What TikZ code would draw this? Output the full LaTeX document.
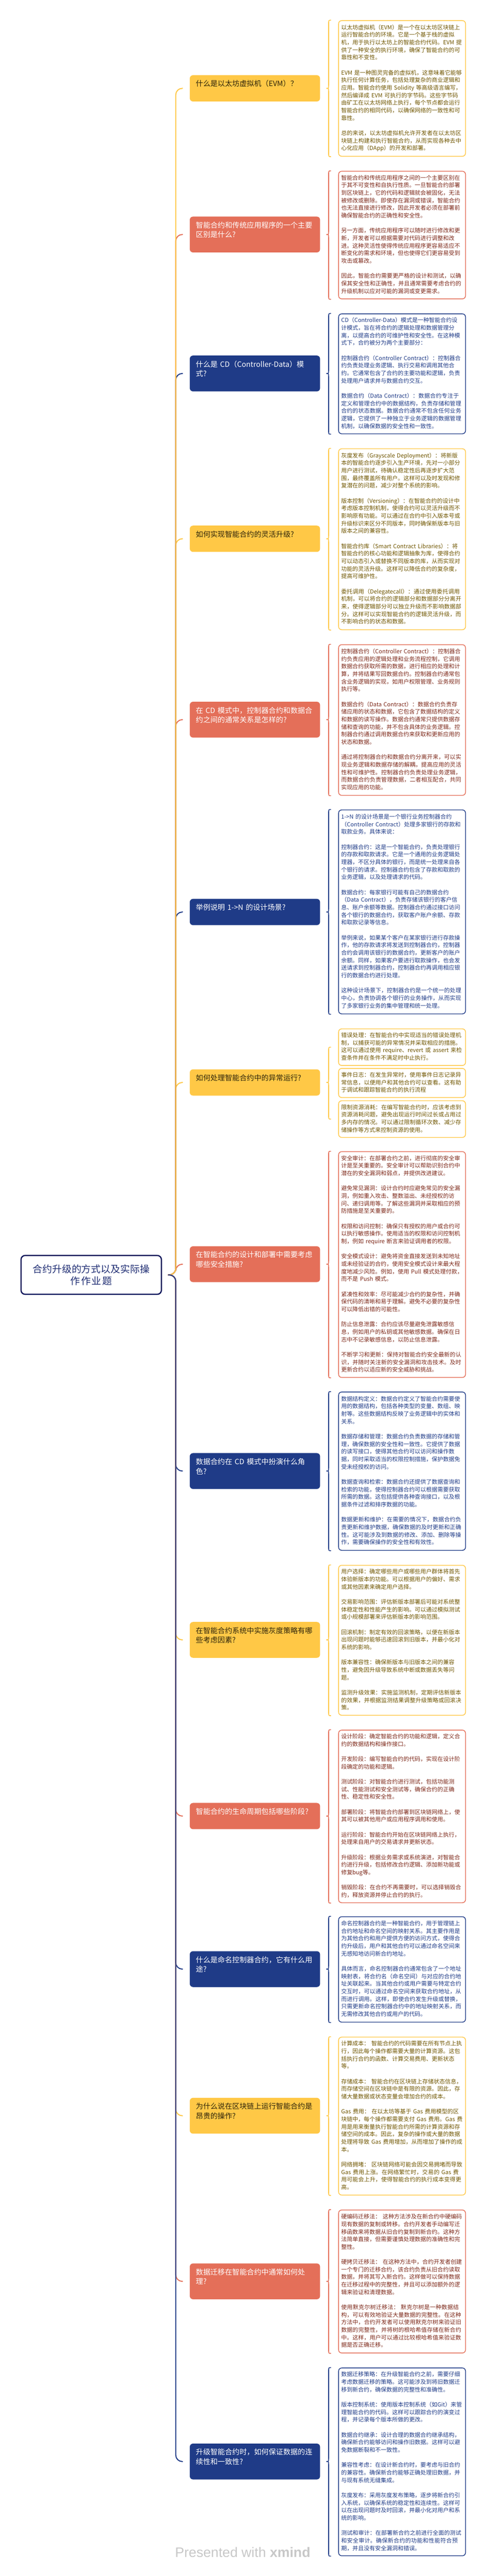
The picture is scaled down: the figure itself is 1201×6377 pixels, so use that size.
\documentclass[tikz,border=0pt]{standalone}
\usepackage{fontspec}
\newfontfamily\cjk{Noto Sans CJK SC}
\newfontfamily\wmfont{Liberation Sans}
\usetikzlibrary{calc}
\XeTeXlinebreaklocale "zh"
\XeTeXlinebreakskip=0pt plus 1pt
\definecolor{cy}{RGB}{255,200,70}
\definecolor{cr}{RGB}{228,111,89}
\definecolor{cn}{RGB}{31,59,135}
\definecolor{ty}{RGB}{112,86,0}
\definecolor{tr}{RGB}{125,40,25}
\definecolor{tn}{RGB}{31,59,135}
\definecolor{qyt}{RGB}{45,35,10}
\definecolor{rootb}{RGB}{12,20,90}
\definecolor{roott}{RGB}{31,45,115}
\definecolor{wm}{RGB}{200,200,200}
\tikzset{
  conn/.style={line width=2.5pt, rounded corners=16pt},
  brc/.style={line width=2pt},
  qbox/.style={anchor=north west, rounded corners=8pt, text width=292pt, inner xsep=15pt, inner ysep=11.4pt, align=left, font=\cjk\fontsize{18pt}{23.7pt}\selectfont},
  qy/.style={qbox, fill=cy, text=qyt},
  qr/.style={qbox, fill=cr, text=white},
  qn/.style={qbox, fill=cn, text=white},
  dbox/.style={anchor=north west, rounded corners=8pt, draw, line width=1.8pt, fill=white, text width=301pt, inner xsep=6.5pt, inner ysep=8pt, font=\cjk\fontsize{14pt}{18.7pt}\selectfont},
  dy/.style={dbox, draw=cy, text=ty},
  dr/.style={dbox, draw=cr, text=tr},
  dn/.style={dbox, draw=cn, text=tn},
}
\newcommand\qt[1]{\strut#1\rule[-25.6pt]{0pt}{25.6pt}}
\newcommand\dt[1]{\raggedright\parindent=0pt\parskip=0pt\hyphenpenalty=10000 \exhyphenpenalty=10000 \strut#1\strut}
\newcommand\pb{\par\vspace{18.7pt}}
\newcommand\qbrace[4]{%
  \draw[brc,#1] let \p1=(#2.east), \p2=(#3), \p3=(#4) in
  (\x1+27pt,\y2) .. controls (\x1+21pt,\y2) .. (\x1+21pt,\y2-8pt)
  -- (\x1+21pt,\y1+8pt) .. controls (\x1+21pt,\y1) .. (\x1+15pt,\y1)
  .. controls (\x1+21pt,\y1) .. (\x1+21pt,\y1-8pt)
  -- (\x1+21pt,\y3+8pt) .. controls (\x1+21pt,\y3) .. (\x1+27pt,\y3);}
\begin{document}
\begin{tikzpicture}[x=1pt,y=-1pt]
\fill[white] (0,0) rectangle (1201,6377);
\path[use as bounding box] (0,0) rectangle (1201,6377);

% root
\node[draw=rootb, line width=3pt, fill=white, rounded corners=10pt, minimum width=347pt, minimum height=96pt, text width=300pt, align=center, font=\cjk\fontsize{24pt}{30pt}\selectfont, text=roott] (root) at (225.5,3156) {合约升级的方式以及实际操\\作作业题};

% questions
\node[qy] (q1) at (469,186) {\qt{什么是以太坊虚拟机（EVM）？}};
\node[qr] (q2) at (469,536) {\qt{智能合约和传统应用程序的一个主要\\区别是什么?}};
\node[qn] (q3) at (469,880) {\qt{什么是 CD（Controller-Data）模\\式?}};
\node[qy] (q4) at (469,1301) {\qt{如何实现智能合约的灵活升级?}};
\node[qr] (q5) at (469,1737) {\qt{在 CD 模式中，控制器合约和数据合\\约之间的通常关系是怎样的?}};
\node[qn] (q6) at (469,2225) {\qt{举例说明 1->N 的设计场景?}};
\node[qy] (q7) at (469,2647) {\qt{如何处理智能合约中的异常运行?}};
\node[qr] (q8) at (469,3085) {\qt{在智能合约的设计和部署中需要考虑\\哪些安全措施?}};
\node[qn] (q9) at (469,3597) {\qt{数据合约在 CD 模式中扮演什么角\\色?}};
\node[qy] (q10) at (469,4015) {\qt{在智能合约系统中实施灰度策略有哪\\些考虑因素?}};
\node[qr] (q11) at (469,4463) {\qt{智能合约的生命周期包括哪些阶段?}};
\node[qn] (q12) at (469,4830) {\qt{什么是命名控制器合约，它有什么用\\途?}};
\node[qy] (q13) at (469,5193) {\qt{为什么说在区块链上运行智能合约是\\昂贵的操作?}};
\node[qr] (q14) at (469,5603) {\qt{数据迁移在智能合约中通常如何处\\理?}};
\node[qn] (q15) at (469,6049) {\qt{升级智能合约时，如何保证数据的连\\续性和一致性?}};

% details
\node[dy, minimum height=336pt] (d1) at (836,50) {\dt{以太坊虚拟机（EVM）是一个在以太坊区块链上运行智能合约的环境。它是一个基于栈的虚拟机，用于执行以太坊上的智能合约代码。EVM 提供了一种安全的执行环境，确保了智能合约的可靠性和不变性。\pb EVM 是一种图灵完备的虚拟机，这意味着它能够执行任何计算任务，包括处理复杂的商业逻辑和应用。智能合约使用 Solidity 等高级语言编写，然后编译成 EVM 可执行的字节码。这些字节码由矿工在以太坊网络上执行，每个节点都会运行智能合约的相同代码，以确保网络的一致性和可靠性。\pb 总的来说，以太坊虚拟机允许开发者在以太坊区块链上构建和执行智能合约，从而实现各种去中心化应用（DApp）的开发和部署。}};

\node[dr, minimum height=316pt] (d2) at (836,423) {\dt{智能合约和传统应用程序之间的一个主要区别在于其不可变性和自执行性质。一旦智能合约部署到区块链上，它的代码和逻辑就会被固化，无法被修改或删除。即使存在漏洞或错误，智能合约也无法直接进行修改，因此开发者必须在部署前确保智能合约的正确性和安全性。\pb 另一方面，传统应用程序可以随时进行修改和更新，开发者可以根据需要对代码进行调整和改进。这种灵活性使得传统应用程序更容易适应不断变化的需求和环境，但也使得它们更容易受到攻击或篡改。\pb 因此，智能合约需要更严格的设计和测试，以确保其安全性和正确性，并且通常需要考虑合约的升级机制以应对可能的漏洞或变更需求。}};

\node[dn, minimum height=297pt] (d3) at (836,776) {\dt{CD（Controller-Data）模式是一种智能合约设计模式，旨在将合约的逻辑处理和数据管理分离，以提高合约的可维护性和安全性。在这种模式下，合约被分为两个主要部分：\pb 控制器合约（Controller Contract）：控制器合约负责处理业务逻辑、执行交易和调用其他合约。它通常包含了合约的主要功能和逻辑，负责处理用户请求并与数据合约交互。\pb 数据合约（Data Contract）：数据合约专注于定义和管理合约中的数据结构，负责存储和管理合约的状态数据。数据合约通常不包含任何业务逻辑，它提供了一种独立于业务逻辑的数据管理机制，以确保数据的安全性和一致性。}};

\node[dy, minimum height=448pt] (d4) at (836,1110) {\dt{灰度发布（Grayscale Deployment）：将新版本的智能合约逐步引入生产环境，先对一小部分用户进行测试，待确认稳定性后再逐步扩大范围，最终覆盖所有用户。这样可以及时发现和修复潜在的问题，减少对整个系统的影响。\pb 版本控制（Versioning）：在智能合约的设计中考虑版本控制机制，使得合约可以灵活升级而不影响原有功能。可以通过在合约中引入版本号或升级标识来区分不同版本，同时确保新版本与旧版本之间的兼容性。\pb 智能合约库（Smart Contract Libraries）：将智能合约的核心功能和逻辑抽象为库，使得合约可以动态引入或替换不同版本的库，从而实现对功能的灵活升级。这样可以降低合约的复杂度，提高可维护性。\pb 委托调用（Delegatecall）：通过使用委托调用机制，可以将合约的逻辑部分和数据部分分离开来，使得逻辑部分可以独立升级而不影响数据部分。这样可以实现智能合约的逻辑灵活升级，而不影响合约的状态和数据。}};

\node[dr, minimum height=373pt] (d5) at (836,1595) {\dt{控制器合约（Controller Contract）：控制器合约负责应用的逻辑处理和业务流程控制，它调用数据合约获取所需的数据，进行相应的处理和计算，并将结果写回数据合约。控制器合约通常包含业务逻辑的实现，如用户权限管理、业务规则执行等。\pb 数据合约（Data Contract）：数据合约负责存储应用的状态和数据，它包含了数据结构的定义和数据的读写操作。数据合约通常只提供数据存储和查询的功能，并不包含具体的业务逻辑。控制器合约通过调用数据合约来获取和更新应用的状态和数据。\pb 通过将控制器合约和数据合约分离开来，可以实现业务逻辑和数据存储的解耦，提高应用的灵活性和可维护性。控制器合约负责处理业务逻辑，而数据合约负责管理数据，二者相互配合，共同实现应用的功能。}};

\node[dn, minimum height=505pt] (d6) at (836,2004) {\dt{1->N 的设计场景是一个银行业务控制器合约（Controller Contract）处理多家银行的存款和取款业务。具体来说：\pb 控制器合约：这是一个智能合约，负责处理银行的存款和取款请求。它是一个通用的业务逻辑处理器，不区分具体的银行，而是统一处理来自各个银行的请求。控制器合约包含了存款和取款的业务逻辑，以及处理请求的代码。\pb 数据合约：每家银行可能有自己的数据合约（Data Contract），负责存储该银行的客户信息、账户余额等数据。控制器合约通过接口访问各个银行的数据合约，获取客户账户余额、存款和取款记录等信息。\pb 举例来说，如果某个客户在某家银行进行存款操作，他的存款请求将发送到控制器合约，控制器合约会调用该银行的数据合约，更新客户的账户余额。同样，如果客户要进行取款操作，也会发送请求到控制器合约，控制器合约再调用相应银行的数据合约进行处理。\pb 这种设计场景下，控制器合约是一个统一的处理中心，负责协调各个银行的业务操作，从而实现了多家银行业务的集中管理和统一处理。}};

\node[dy, minimum height=89pt] (d7a) at (836,2546) {\dt{错误处理：在智能合约中实现适当的错误处理机制，以捕获可能的异常情况并采取相应的措施。这可以通过使用 require、revert 或 assert 来检查条件并在条件不满足时中止执行。}};
\node[dy, minimum height=71pt] (d7b) at (836,2644) {\dt{事件日志：在发生异常时，使用事件日志记录异常信息，以便用户和其他合约可以查看。这有助于调试和跟踪智能合约的执行流程}};
\node[dy, minimum height=89pt] (d7c) at (836,2724) {\dt{限制资源消耗：在编写智能合约时，应该考虑到资源消耗问题，避免出现运行时间过长或占用过多内存的情况。可以通过限制循环次数、减少存储操作等方式来控制资源的使用。}};

\node[dr, minimum height=559pt] (d8) at (836,2850) {\dt{安全审计：在部署合约之前，进行彻底的安全审计是至关重要的。安全审计可以帮助识别合约中潜在的安全漏洞和弱点，并提供改进建议。\pb 避免常见漏洞：设计合约时应避免常见的安全漏洞，例如重入攻击、整数溢出、未经授权的访问、递归调用等。了解这些漏洞并采取相应的预防措施是至关重要的。\pb 权限和访问控制：确保只有授权的用户或合约可以执行敏感操作。使用适当的权限和访问控制机制，例如 require 断言来验证调用者的权限。\pb 安全模式设计：避免将资金直接发送到未知地址或未经验证的合约，使用安全模式设计来最大程度地减少风险。例如，使用 Pull 模式处理付款，而不是 Push 模式。\pb 紧凑性和效率：尽可能减少合约的复杂性，并确保代码的清晰和易于理解。避免不必要的复杂性可以降低出错的可能性。\pb 防止信息泄露：合约应该尽量避免泄露敏感信息，例如用户的私钥或其他敏感数据。确保在日志中不记录敏感信息，以防止信息泄露。\pb 不断学习和更新：保持对智能合约安全最新的认识，并随时关注新的安全漏洞和攻击技术。及时更新合约以适应新的安全威胁和挑战。}};

\node[dn, minimum height=392pt] (d9) at (836,3445) {\dt{数据结构定义：数据合约定义了智能合约需要使用的数据结构，包括各种类型的变量、数组、映射等。这些数据结构反映了业务逻辑中的实体和关系。\pb 数据存储和管理：数据合约负责数据的存储和管理，确保数据的安全性和一致性。它提供了数据的读写接口，使得其他合约可以访问和操作数据，同时采取适当的权限控制措施，保护数据免受未经授权的访问。\pb 数据查询和检索：数据合约还提供了数据查询和检索的功能，使得控制器合约可以根据需要获取所需的数据。这包括提供各种查询接口，以及根据条件过滤和排序数据的功能。\pb 数据更新和维护：在需要的情况下，数据合约负责更新和维护数据，确保数据的及时更新和正确性。这可能涉及到数据的修改、添加、删除等操作，需要确保操作的安全性和有效性。}};

\node[dy, minimum height=371pt] (d10) at (836,3874) {\dt{用户选择：确定哪些用户或哪些用户群体将首先体验新版本的功能。可以根据用户的偏好、需求或其他因素来确定用户选择。\pb 交易影响范围：评估新版本部署后可能对系统整体稳定性和性能产生的影响。可以通过模拟测试或小规模部署来评估新版本的影响范围。\pb 回滚机制：制定有效的回滚策略，以便在新版本出现问题时能够迅速回滚到旧版本，并最小化对系统的影响。\pb 版本兼容性：确保新版本与旧版本之间的兼容性，避免因升级导致系统中断或数据丢失等问题。\pb 监测升级效果：实施监测机制，定期评估新版本的效果，并根据监测结果调整升级策略或回滚决策。}};

\node[dr, minimum height=426pt] (d11) at (836,4282) {\dt{设计阶段：确定智能合约的功能和逻辑，定义合约的数据结构和操作接口。\pb 开发阶段：编写智能合约的代码，实现在设计阶段确定的功能和逻辑。\pb 测试阶段：对智能合约进行测试，包括功能测试、性能测试和安全测试等，确保合约的正确性、稳定性和安全性。\pb 部署阶段：将智能合约部署到区块链网络上，使其可以被其他用户或应用程序调用和使用。\pb 运行阶段：智能合约开始在区块链网络上执行，处理来自用户的交易请求并更新状态。\pb 升级阶段：根据业务需求或系统演进，对智能合约进行升级，包括修改合约逻辑、添加新功能或修复bug等。\pb 销毁阶段：在合约不再需要时，可以选择销毁合约，释放资源并停止合约的执行。}};

\node[dn, minimum height=261pt] (d12) at (836,4744) {\dt{命名控制器合约是一种智能合约，用于管理链上合约地址和命名空间的映射关系。其主要作用是为其他合约和用户提供方便的访问方式，使得合约升级后，用户和其他合约可以通过命名空间来无感知地访问新合约地址。\pb 具体而言，命名控制器合约通常包含了一个地址映射表，将合约名（命名空间）与对应的合约地址关联起来。当其他合约或用户需要与特定合约交互时，可以通过命名空间来获取合约地址，从而进行调用。这样，即使合约发生升级或替换，只需更新命名控制器合约中的地址映射关系，而无需修改其他合约或用户的代码。}};

\node[dy, minimum height=391pt] (d13) at (836,5042) {\dt{计算成本： 智能合约的代码需要在所有节点上执行，因此每个操作都需要大量的计算资源。这包括执行合约的函数、计算交易费用、更新状态等。\pb 存储成本： 智能合约在区块链上存储状态信息，而存储空间在区块链中是有限的资源。因此，存储大量数据或状态变量会增加合约的成本。\pb Gas 费用： 在以太坊等基于 Gas 费用模型的区块链中，每个操作都需要支付 Gas 费用。Gas 费用是用来衡量执行智能合约所需的计算资源和存储空间的成本。因此，复杂的操作或大量的数据处理将导致 Gas 费用增加，从而增加了操作的成本。\pb 网络拥堵： 区块链网络可能会因交易拥堵而导致 Gas 费用上涨。在网络繁忙时，交易的 Gas 费用可能会上升，使得智能合约的执行成本变得更高。}};

\node[dr, minimum height=354pt] (d14) at (836,5470) {\dt{硬编码迁移法： 这种方法涉及在新合约中硬编码现有数据的复制或转移。合约开发者手动编写迁移函数来将数据从旧合约复制到新合约。这种方法简单直接，但需要谨慎处理数据的准确性和完整性。\pb 硬拷贝迁移法： 在这种方法中，合约开发者创建一个专门的迁移合约，该合约负责从旧合约读取数据，并将其写入新合约。这样做可以保持数据在迁移过程中的完整性，并且可以添加额外的逻辑来验证和清理数据。\pb 使用默克尔树迁移法： 默克尔树是一种数据结构，可以有效地验证大量数据的完整性。在这种方法中，合约开发者可以使用默克尔树来验证旧数据的完整性，并将树的根哈希值存储在新合约中。这样，用户可以通过比较根哈希值来验证数据是否正确迁移。}};

\node[dn, minimum height=465pt] (d15) at (836,5861) {\dt{数据迁移策略：在升级智能合约之前，需要仔细考虑数据迁移的策略。这可能涉及到将旧数据迁移到新合约，确保数据的完整性和准确性。\pb 版本控制系统：使用版本控制系统（如Git）来管理智能合约的代码。这样可以跟踪合约的演变过程，并记录每个版本所做的更改。\pb 数据合约继承：设计合理的数据合约继承结构，确保新合约能够访问和操作旧数据。这样可以避免数据断裂和不一致性。\pb 兼容性考虑：在设计新合约时，要考虑与旧合约的兼容性。确保新合约能够正确处理旧数据，并与现有系统无缝集成。\pb 灰度发布：采用灰度发布策略，逐步将新合约引入系统，以确保系统的稳定性和连续性。这样可以在出现问题时及时回滚，并最小化对用户和系统的影响。\pb 测试和审计：在部署新合约之前进行全面的测试和安全审计。确保新合约的功能和性能符合预期，并且没有安全漏洞和错误。}};

% braces
\qbrace{cy}{q1}{d1.north west}{d1.south west}
\qbrace{cr}{q2}{d2.north west}{d2.south west}
\qbrace{cn}{q3}{d3.north west}{d3.south west}
\qbrace{cy}{q4}{d4.north west}{d4.south west}
\qbrace{cr}{q5}{d5.north west}{d5.south west}
\qbrace{cn}{q6}{d6.north west}{d6.south west}
\qbrace{cy}{q7}{d7a.west}{d7c.west}
\qbrace{cr}{q8}{d8.north west}{d8.south west}
\qbrace{cn}{q9}{d9.north west}{d9.south west}
\qbrace{cy}{q10}{d10.north west}{d10.south west}
\qbrace{cr}{q11}{d11.north west}{d11.south west}
\qbrace{cn}{q12}{d12.north west}{d12.south west}
\qbrace{cy}{q13}{d13.north west}{d13.south west}
\qbrace{cr}{q14}{d14.north west}{d14.south west}
\qbrace{cn}{q15}{d15.north west}{d15.south west}

% connectors (upward, Q1 drawn last)
\draw[conn, cr] ([xshift=15pt]root.east) -- ++(19pt,0) |- ([xshift=-17pt]q8.west);
\draw[conn, cy] ([xshift=15pt]root.east) -- ++(19pt,0) |- ([xshift=-17pt]q7.west);
\draw[conn, cn] ([xshift=15pt]root.east) -- ++(19pt,0) |- ([xshift=-17pt]q6.west);
\draw[conn, cr] ([xshift=15pt]root.east) -- ++(19pt,0) |- ([xshift=-17pt]q5.west);
\draw[conn, cy] ([xshift=15pt]root.east) -- ++(19pt,0) |- ([xshift=-17pt]q4.west);
\draw[conn, cn] ([xshift=15pt]root.east) -- ++(19pt,0) |- ([xshift=-17pt]q3.west);
\draw[conn, cr] ([xshift=15pt]root.east) -- ++(19pt,0) |- ([xshift=-17pt]q2.west);
\draw[conn, cy] ([xshift=15pt]root.east) -- ++(19pt,0) |- ([xshift=-17pt]q1.west);
% downward, Q15 drawn last
\draw[conn, cn] ([xshift=15pt]root.east) -- ++(19pt,0) |- ([xshift=-17pt]q9.west);
\draw[conn, cy] ([xshift=15pt]root.east) -- ++(19pt,0) |- ([xshift=-17pt]q10.west);
\draw[conn, cr] ([xshift=15pt]root.east) -- ++(19pt,0) |- ([xshift=-17pt]q11.west);
\draw[conn, cn] ([xshift=15pt]root.east) -- ++(19pt,0) |- ([xshift=-17pt]q12.west);
\draw[conn, cy] ([xshift=15pt]root.east) -- ++(19pt,0) |- ([xshift=-17pt]q13.west);
\draw[conn, cr] ([xshift=15pt]root.east) -- ++(19pt,0) |- ([xshift=-17pt]q14.west);
\draw[conn, cn] ([xshift=15pt]root.east) -- ++(19pt,0) |- ([xshift=-17pt]q15.west);

% watermark
\node[font=\wmfont\fontsize{34pt}{38pt}\selectfont, text=wm, inner sep=0pt] (wmark) at (600,6318) {Presented with \textbf{xmind}};
\end{tikzpicture}
\end{document}
